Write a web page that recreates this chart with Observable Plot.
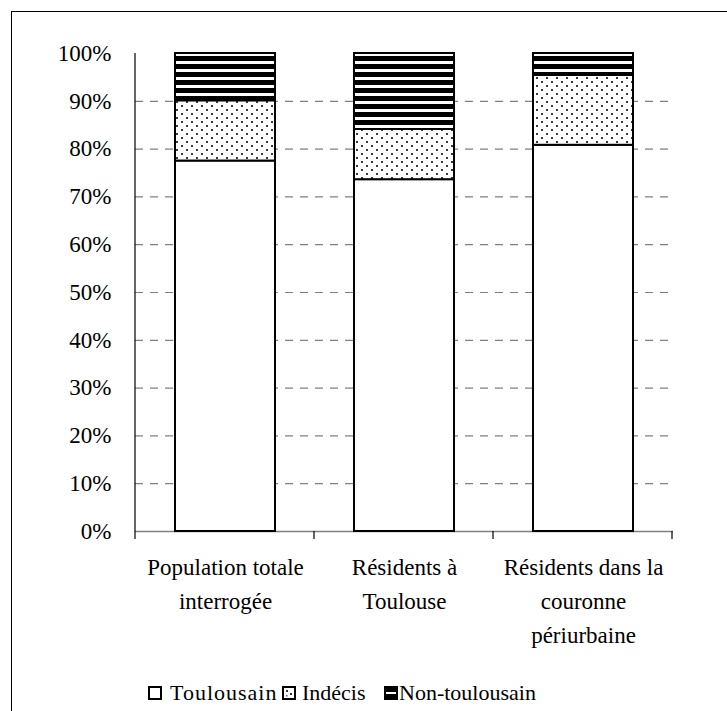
<!DOCTYPE html>
<html>
<head>
<meta charset="utf-8">
<script src="https://cdn.jsdelivr.net/npm/d3@7"></script>
<script src="https://cdn.jsdelivr.net/npm/@observablehq/plot@0.6"></script>
<style>
  html, body { margin: 0; padding: 0; background: #fff; }
  body { width: 727px; height: 711px; position: relative; overflow: hidden; font-family: 'Liberation Serif', 'Times New Roman', serif; }
  #frame { position: absolute; left: 11px; top: 11px; width: 900px; height: 900px; border-left: 1.5px solid #000; border-top: 1.5px solid #000; }
  #chart { position: absolute; left: 0; top: 0; }
  .leg { position: absolute; font-family: 'Liberation Serif', serif; font-size: 22px; line-height: 22px; color: #000; white-space: nowrap; }
  .sw { position: absolute; }
</style>
</head>
<body>
<div id="frame"></div>
<div id="chart"></div>
<div id="legend"></div>
<script>
const categories = ["Population totale\ninterrogée", "Résidents à\nToulouse", "Résidents dans la\ncouronne\npériurbaine"];
const series = ["Toulousain", "Indécis", "Non-toulousain"];
const toulousain = [77.5, 73.6, 80.8];
const indecis = [12.6, 10.5, 14.6];
const nonToulousain = [9.9, 15.9, 4.6];
const yTicks = [0, 10, 20, 30, 40, 50, 60, 70, 80, 90, 100];
const gridTicks = [10, 20, 30, 40, 50, 60, 70, 80, 90];

const seriesValues = [toulousain, indecis, nonToulousain];
const data = [];
series.forEach((s, si) => categories.forEach((c, ci) => data.push({category: c, series: s, value: seriesValues[si][ci]})));

const fills = ["white", "url(#dots)", "url(#stripes)"];

function boundaryTicks(index, scales, values, dimensions) {
  const x = scales.x, y = scales.y;
  const step = x.step();
  const r = x.range();
  const x0 = Math.min(r[0], r[1]);
  const y0 = y(0), y1 = y(100);
  const g = d3.create("svg:g");
  g.append("line").attr("x1", x0).attr("x2", x0).attr("y1", y1).attr("y2", y0)
    .attr("stroke", "#000").attr("stroke-width", 1.2);
  for (let i = 0; i <= categories.length; i++) {
    const xi = x0 + i * step;
    g.append("line").attr("x1", xi).attr("x2", xi).attr("y1", y0).attr("y2", y0 + 8)
      .attr("stroke", "#000").attr("stroke-width", 1.2);
  }
  return g.node();
}

const chart = Plot.plot({
  width: 727,
  height: 660,
  marginLeft: 135,
  marginRight: 54,
  marginTop: 53,
  marginBottom: 129,
  style: {fontFamily: "'Liberation Serif', 'Times New Roman', serif", fontSize: "23px", color: "#000", background: "transparent"},
  x: {domain: categories, paddingInner: 0.4424, paddingOuter: 0.2212, label: null},
  y: {domain: [0, 100], label: null},
  color: {type: "ordinal", domain: series, range: fills},
  marks: [
    Plot.gridY(gridTicks, {stroke: "#808080", strokeOpacity: 1, strokeWidth: 1.2, strokeDasharray: "8,7"}),
    Plot.ruleY([0], {stroke: "#808080", strokeWidth: 1.5}),
    Plot.barY(data, Plot.stackY({x: "category", y: "value", fill: "series", order: series, stroke: "#000", strokeWidth: 2})),
    Plot.axisY({ticks: yTicks, tickFormat: d => d + "%", tickSize: 0, tickPadding: 24, fontSize: 23, label: null}),
    Plot.axisX({tickSize: 0, tickPadding: 19, fontSize: 23, lineHeight: 1.48, label: null}),
    boundaryTicks
  ]
});

const defs = d3.select(chart).insert("defs", ":first-child");
const dots = defs.append("pattern").attr("id", "dots").attr("patternUnits", "userSpaceOnUse").attr("width", 10).attr("height", 8);
dots.append("rect").attr("width", 10).attr("height", 8).attr("fill", "#fff");
dots.append("rect").attr("x", 1).attr("y", 1).attr("width", 2).attr("height", 2).attr("fill", "#3a3a3a");
dots.append("rect").attr("x", 6).attr("y", 5).attr("width", 2).attr("height", 2).attr("fill", "#3a3a3a");
const stripes = defs.append("pattern").attr("id", "stripes").attr("patternUnits", "userSpaceOnUse").attr("width", 8).attr("height", 8);
stripes.append("rect").attr("width", 8).attr("height", 8).attr("fill", "#fff");
stripes.append("rect").attr("y", 0).attr("width", 8).attr("height", 5).attr("fill", "#000");

document.getElementById("chart").appendChild(chart);

// Legend
const legend = document.getElementById("legend");
const items = [
  {label: series[0], sx: 148, tx: 170, ls: "1px"},
  {label: series[1], sx: 282, tx: 302, ls: "0px"},
  {label: series[2], sx: 384, tx: 399, ls: "0px"}
];
items.forEach((it, i) => {
  const sw = document.createElementNS("http://www.w3.org/2000/svg", "svg");
  sw.setAttribute("class", "sw");
  sw.setAttribute("width", 15); sw.setAttribute("height", 15);
  sw.style.left = it.sx + "px"; sw.style.top = "686px";
  let inner = "";
  if (i === 0) inner = '<rect x="1" y="1" width="12" height="12" fill="#fff" stroke="#000" stroke-width="2"/>';
  if (i === 1) inner = '<rect x="1" y="1" width="12" height="12" fill="#fff" stroke="#000" stroke-width="2"/><rect x="4" y="4" width="2" height="2" fill="#333"/><rect x="8" y="7" width="2" height="2" fill="#333"/><rect x="4" y="9" width="1.5" height="1.5" fill="#555"/>';
  if (i === 2) inner = '<rect x="1" y="1" width="12" height="12" fill="#000" stroke="#000" stroke-width="2"/><rect x="2" y="6" width="10" height="2" fill="#fff"/>';
  sw.innerHTML = inner;
  legend.appendChild(sw);
  const t = document.createElement("div");
  t.className = "leg";
  t.textContent = it.label;
  t.style.left = it.tx + "px"; t.style.top = "682px"; t.style.letterSpacing = it.ls;
  legend.appendChild(t);
});
</script>
</body>
</html>
